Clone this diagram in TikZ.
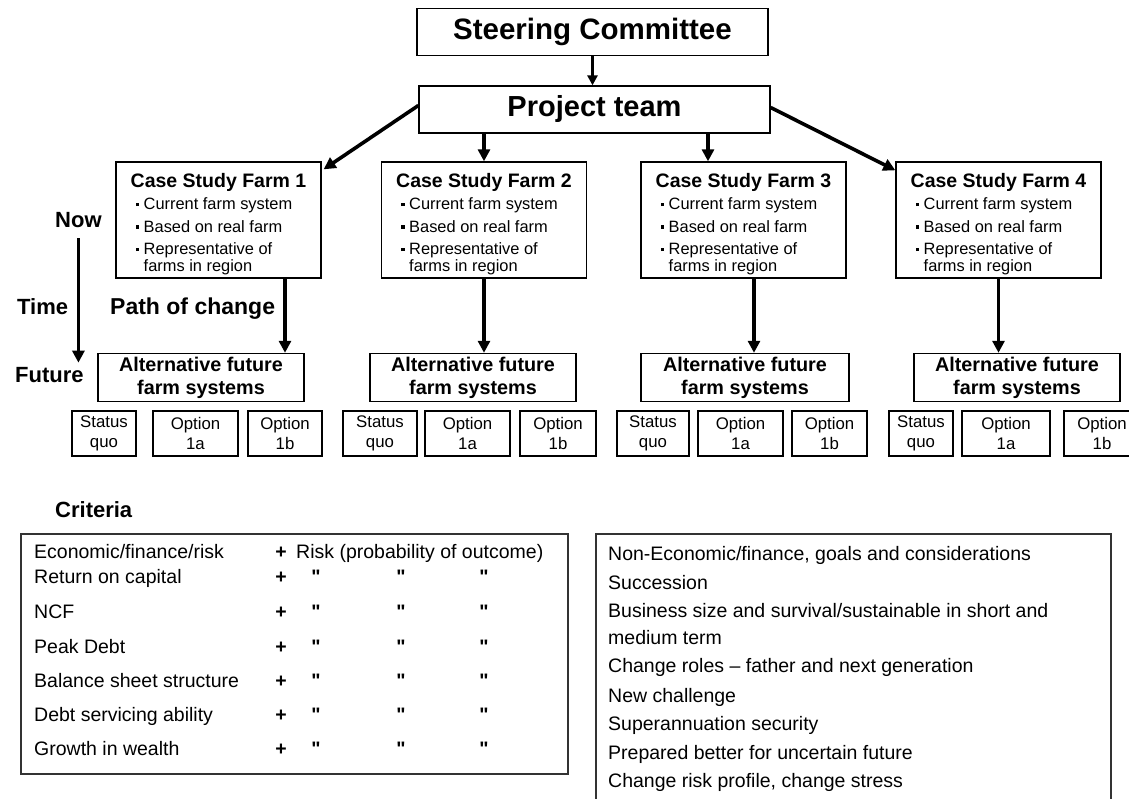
\documentclass[tikz,border=0pt]{standalone}
\usepackage{fontspec}
\setmainfont{Liberation Sans}
\newfontfamily\plainquotes[Ligatures=TeXOff]{Liberation Sans}
\usetikzlibrary{arrows.meta,positioning}

\newcommand{\sqb}{\hspace*{5pt}\rule[0.22em]{3.5pt}{3.5pt}\hspace{4.5pt}}
\newcommand{\farmtitle}[1]{\rule{0pt}{22pt}\textbf{\fontsize{19.5}{22}\selectfont #1}}
\newcommand{\ditto}{{\plainquotes\bfseries\char34}}

\tikzset{
  topbox/.style={draw, line width=1.3pt, minimum width=351pt, minimum height=47pt, font=\bfseries\fontsize{29.5}{34}\selectfont},
  farmbox/.style={draw, line width=1.3pt, minimum width=205pt, minimum height=116pt, align=left, font=\fontsize{16.4}{22.5}\selectfont},
  altbox/.style={draw, line width=1.3pt, minimum width=206pt, minimum height=47pt, align=center, font=\bfseries\fontsize{19.8}{23}\selectfont},
  optbox/.style={draw, line width=1.2pt, minimum width=#1, minimum height=45pt, align=center, font=\fontsize{16.8}{20.5}\selectfont},
  sidelabel/.style={anchor=base west, inner sep=0pt, font=\bfseries\fontsize{22}{26}\selectfont},
  tablebox/.style={draw=black!80, line width=1.2pt},
  rowtext/.style={anchor=base west, inner sep=0pt, font=\fontsize{19.5}{24}\selectfont},
  rowmark/.style={anchor=base, inner sep=0pt, font=\bfseries\fontsize{19.5}{24}\selectfont},
  fatarrow/.style={line width=3.6pt, -{Triangle[length=12pt,width=12pt]}},
  thinarrow/.style={line width=2.8pt, -{Triangle[length=10pt,width=10pt]}},
}

\begin{document}
\begin{tikzpicture}[x=1pt, y=-1pt]
  \useasboundingbox (0,0) rectangle (1129,799);

  % management
  \node[topbox] (steer) at (592.5,32) {Steering Committee};
  \node[topbox, font=\bfseries\fontsize{29}{34}\selectfont] (team) at (594.5,109.5) {Project team};
  \draw[thinarrow] (steer.south) -- (steer.south |- team.north);

  % the four farms, now
  \node[farmbox] (farm1) at (218.5,220) {\farmtitle{Case Study Farm 1}\\ \sqb Current farm system\\ \sqb Based on real farm\\ \sqb Representative of\\[-6pt] \hspace*{13pt}farms in region};
  \node[farmbox] (farm2) at (484,220) {\farmtitle{Case Study Farm 2}\\ \sqb Current farm system\\ \sqb Based on real farm\\ \sqb Representative of\\[-6pt] \hspace*{13pt}farms in region};
  \node[farmbox] (farm3) at (743.5,220) {\farmtitle{Case Study Farm 3}\\ \sqb Current farm system\\ \sqb Based on real farm\\ \sqb Representative of\\[-6pt] \hspace*{13pt}farms in region};
  \node[farmbox] (farm4) at (998.5,220) {\farmtitle{Case Study Farm 4}\\ \sqb Current farm system\\ \sqb Based on real farm\\ \sqb Representative of\\[-6pt] \hspace*{13pt}farms in region};

  \coordinate (in3) at ([xshift=-35.5pt]farm3.north);
  \draw[fatarrow] ([yshift=4pt]team.west) -- ([shift={(2pt,-8pt)}]farm1.north east);
  \draw[fatarrow] (team.south -| farm2.north) -- (farm2.north);
  \draw[fatarrow] (team.south -| in3) -- (in3);
  \draw[fatarrow] ([yshift=2pt]team.east) -- ([yshift=-9pt]farm4.north west);

  % the four farms, future
  \node[altbox] (alt1) at (201,377.5) {Alternative future\\farm systems};
  \node[altbox] (alt2) at (473,377.5) {Alternative future\\farm systems};
  \node[altbox, minimum width=208pt] (alt3) at (745,377.5) {Alternative future\\farm systems};
  \node[altbox] (alt4) at (1017,377.5) {Alternative future\\farm systems};

  \coordinate (out1) at ([xshift=66.5pt]farm1.south);
  \coordinate (out3) at ([xshift=10.5pt]farm3.south);
  \draw[fatarrow] (out1) -- (out1 |- alt1.north);
  \draw[fatarrow] (farm2.south) -- (farm2.south |- alt2.north);
  \draw[fatarrow] (out3) -- (out3 |- alt3.north);
  \draw[fatarrow] (farm4.south) -- (farm4.south |- alt4.north);

  % options under each farm
  \node[optbox=64pt] (sq1) at (104,433.5) {Status\\quo};
  \node[optbox=85pt] (oa1) at (195.5,433.5) {Option\\1a};
  \node[optbox=74pt] (ob1) at (285,433.5) {Option\\1b};
  \node[optbox=74pt] (sq2) at (380,433.5) {Status\\quo};
  \node[optbox=85pt] (oa2) at (467.5,433.5) {Option\\1a};
  \node[optbox=76pt] (ob2) at (558,433.5) {Option\\1b};
  \node[optbox=72pt] (sq3) at (653,433.5) {Status\\quo};
  \node[optbox=85pt] (oa3) at (740.5,433.5) {Option\\1a};
  \node[optbox=75pt] (ob3) at (829.5,433.5) {Option\\1b};
  \node[optbox=64pt] (sq4) at (921,433.5) {Status\\quo};
  \node[optbox=88pt] (oa4) at (1006,433.5) {Option\\1a};
  \node[optbox=76pt] (ob4) at (1102,433.5) {Option\\1b};

  % time axis
  \node[sidelabel] (now) at (55,228) {Now};
  \node[sidelabel] (time) at (17,315) {Time};
  \node[sidelabel] (future) at (15,382) {Future};
  \node[sidelabel, font=\bfseries\fontsize{23}{26}\selectfont] (path) at (110,315) {Path of change};
  \draw[fatarrow, shorten <=10pt, shorten >=4pt] (now.south) -- (now.south |- future.north);

  % criteria, economic
  \node[sidelabel] (crit) at (55,517) {Criteria};
  \draw[tablebox] (21,534) rectangle (568,774);
  \node[rowtext] (econ) at (34,558) {Economic/finance/risk};
  \node[rowmark] (econ-plus) at (281,558) {+};
  \node[rowtext] (econ-risk) at (296,558) {Risk (probability of outcome)};
  \foreach \name/\base/\label in {roc/583/Return on capital, ncf/618/NCF, peak/653/Peak Debt, bal/687/Balance sheet structure, debt/721/Debt servicing ability, growth/755/Growth in wealth}{
    \node[rowtext] (\name) at (34,\base) {\label};
    \node[rowmark] (\name-plus) at (281,\base) {+};
    \node[rowmark] (\name-q1) at (316,\base) {\ditto};
    \node[rowmark] (\name-q2) at (401,\base) {\ditto};
    \node[rowmark] (\name-q3) at (484,\base) {\ditto};
  }

  % criteria, non economic
  \draw[tablebox] (596,534) rectangle (1111,815);
  \node[rowtext] (noneco) at (608,560) {Non-Economic/finance, goals and considerations};
  \node[rowtext] (succ) at (608,589) {Succession};
  \node[rowtext] (biz) at (608,617) {Business size and survival/sustainable in short and};
  \node[rowtext] (biz2) at (608,644) {medium term};
  \node[rowtext] (roles) at (608,672) {Change roles -- father and next generation};
  \node[rowtext] (chal) at (608,702) {New challenge};
  \node[rowtext] (super) at (608,730) {Superannuation security};
  \node[rowtext] (prep) at (608,759) {Prepared better for uncertain future};
  \node[rowtext] (stress) at (608,787) {Change risk profile, change stress};
\end{tikzpicture}
\end{document}
